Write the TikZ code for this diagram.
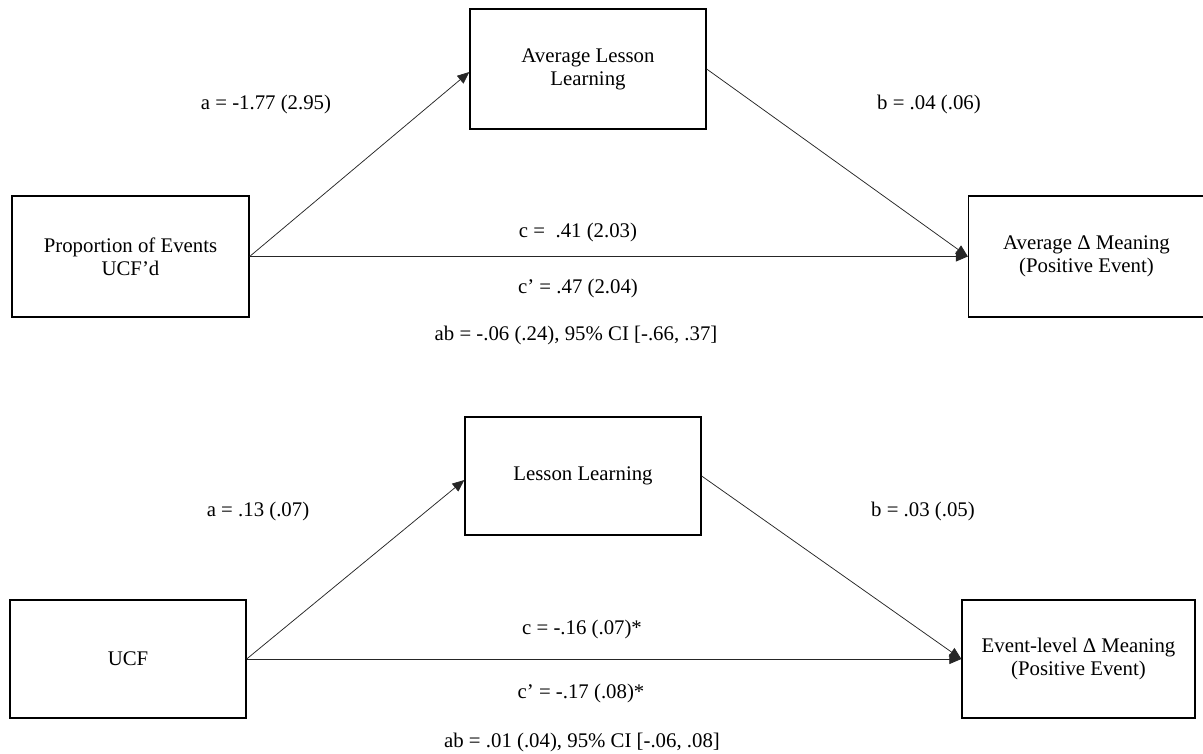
\documentclass[tikz,border=0pt]{standalone}
\usepackage{fontspec}
\setmainfont{Liberation Serif}
\usetikzlibrary{arrows.meta}
\tikzset{
  boxnode/.style={draw=black, line width=1.3pt, rectangle, minimum width=236pt, minimum height=120pt, align=center, inner sep=0pt, font=\fontsize{20.8}{23}\selectfont},
  lbl/.style={inner sep=0pt, font=\fontsize{20.8}{23}\selectfont},
  conn/.style={draw=black!85, line width=0.75pt, -{Triangle[length=12pt,width=10pt]}}
}
\begin{document}
\begin{tikzpicture}[x=1pt,y=-1pt]
\useasboundingbox (0,0) rectangle (1203,754);
% top diagram
\node[boxnode, minimum width=237pt, minimum height=121pt] (L1) at (130.5,256.5) {Proportion of Events\\UCF’d};
\node[boxnode] (M1) at (588,69) {Average Lesson\\Learning};
\node[boxnode, minimum height=121pt] (R1) at (1086.5,256.5) {Average Δ Meaning\\(Positive Event)};
\draw[conn] (L1.east) -- ([yshift=-3pt]M1.west);
\draw[conn] (M1.east) -- (R1.west);
\draw[conn] (L1.east) -- (R1.west);
\node[lbl] (la1) at (266,105) {a = -1.77 (2.95)};
\node[lbl] (lb1) at (929,105) {b = .04 (.06)};
\node[lbl] (lc1) at (578,232) {c =\ \ .41 (2.03)};
\node[lbl] (lcp1) at (578,288) {c’ = .47 (2.04)};
\node[lbl] (lab1) at (576,335) {ab = -.06 (.24), 95\% CI [-.66, .37]};
% bottom diagram
\node[boxnode, minimum height=118pt] (L2) at (128,659) {UCF};
\node[boxnode, minimum height=118pt] (M2) at (583,476) {Lesson Learning};
\node[boxnode, minimum width=233pt, minimum height=118pt] (R2) at (1078.5,659) {Event-level Δ Meaning\\(Positive Event)};
\draw[conn] (L2.east) -- ([yshift=-4pt]M2.west);
\draw[conn] (M2.east) -- (R2.west);
\draw[conn] (L2.east) -- (R2.west);
\node[lbl] (la2) at (258,511) {a = .13 (.07)};
\node[lbl] (lb2) at (923,511) {b = .03 (.05)};
\node[lbl] (lc2) at (582,629) {c = -.16 (.07)*};
\node[lbl] (lcp2) at (581,693) {c’ = -.17 (.08)*};
\node[lbl] (lab2) at (582,742) {ab = .01 (.04), 95\% CI [-.06, .08]};
\end{tikzpicture}
\end{document}
